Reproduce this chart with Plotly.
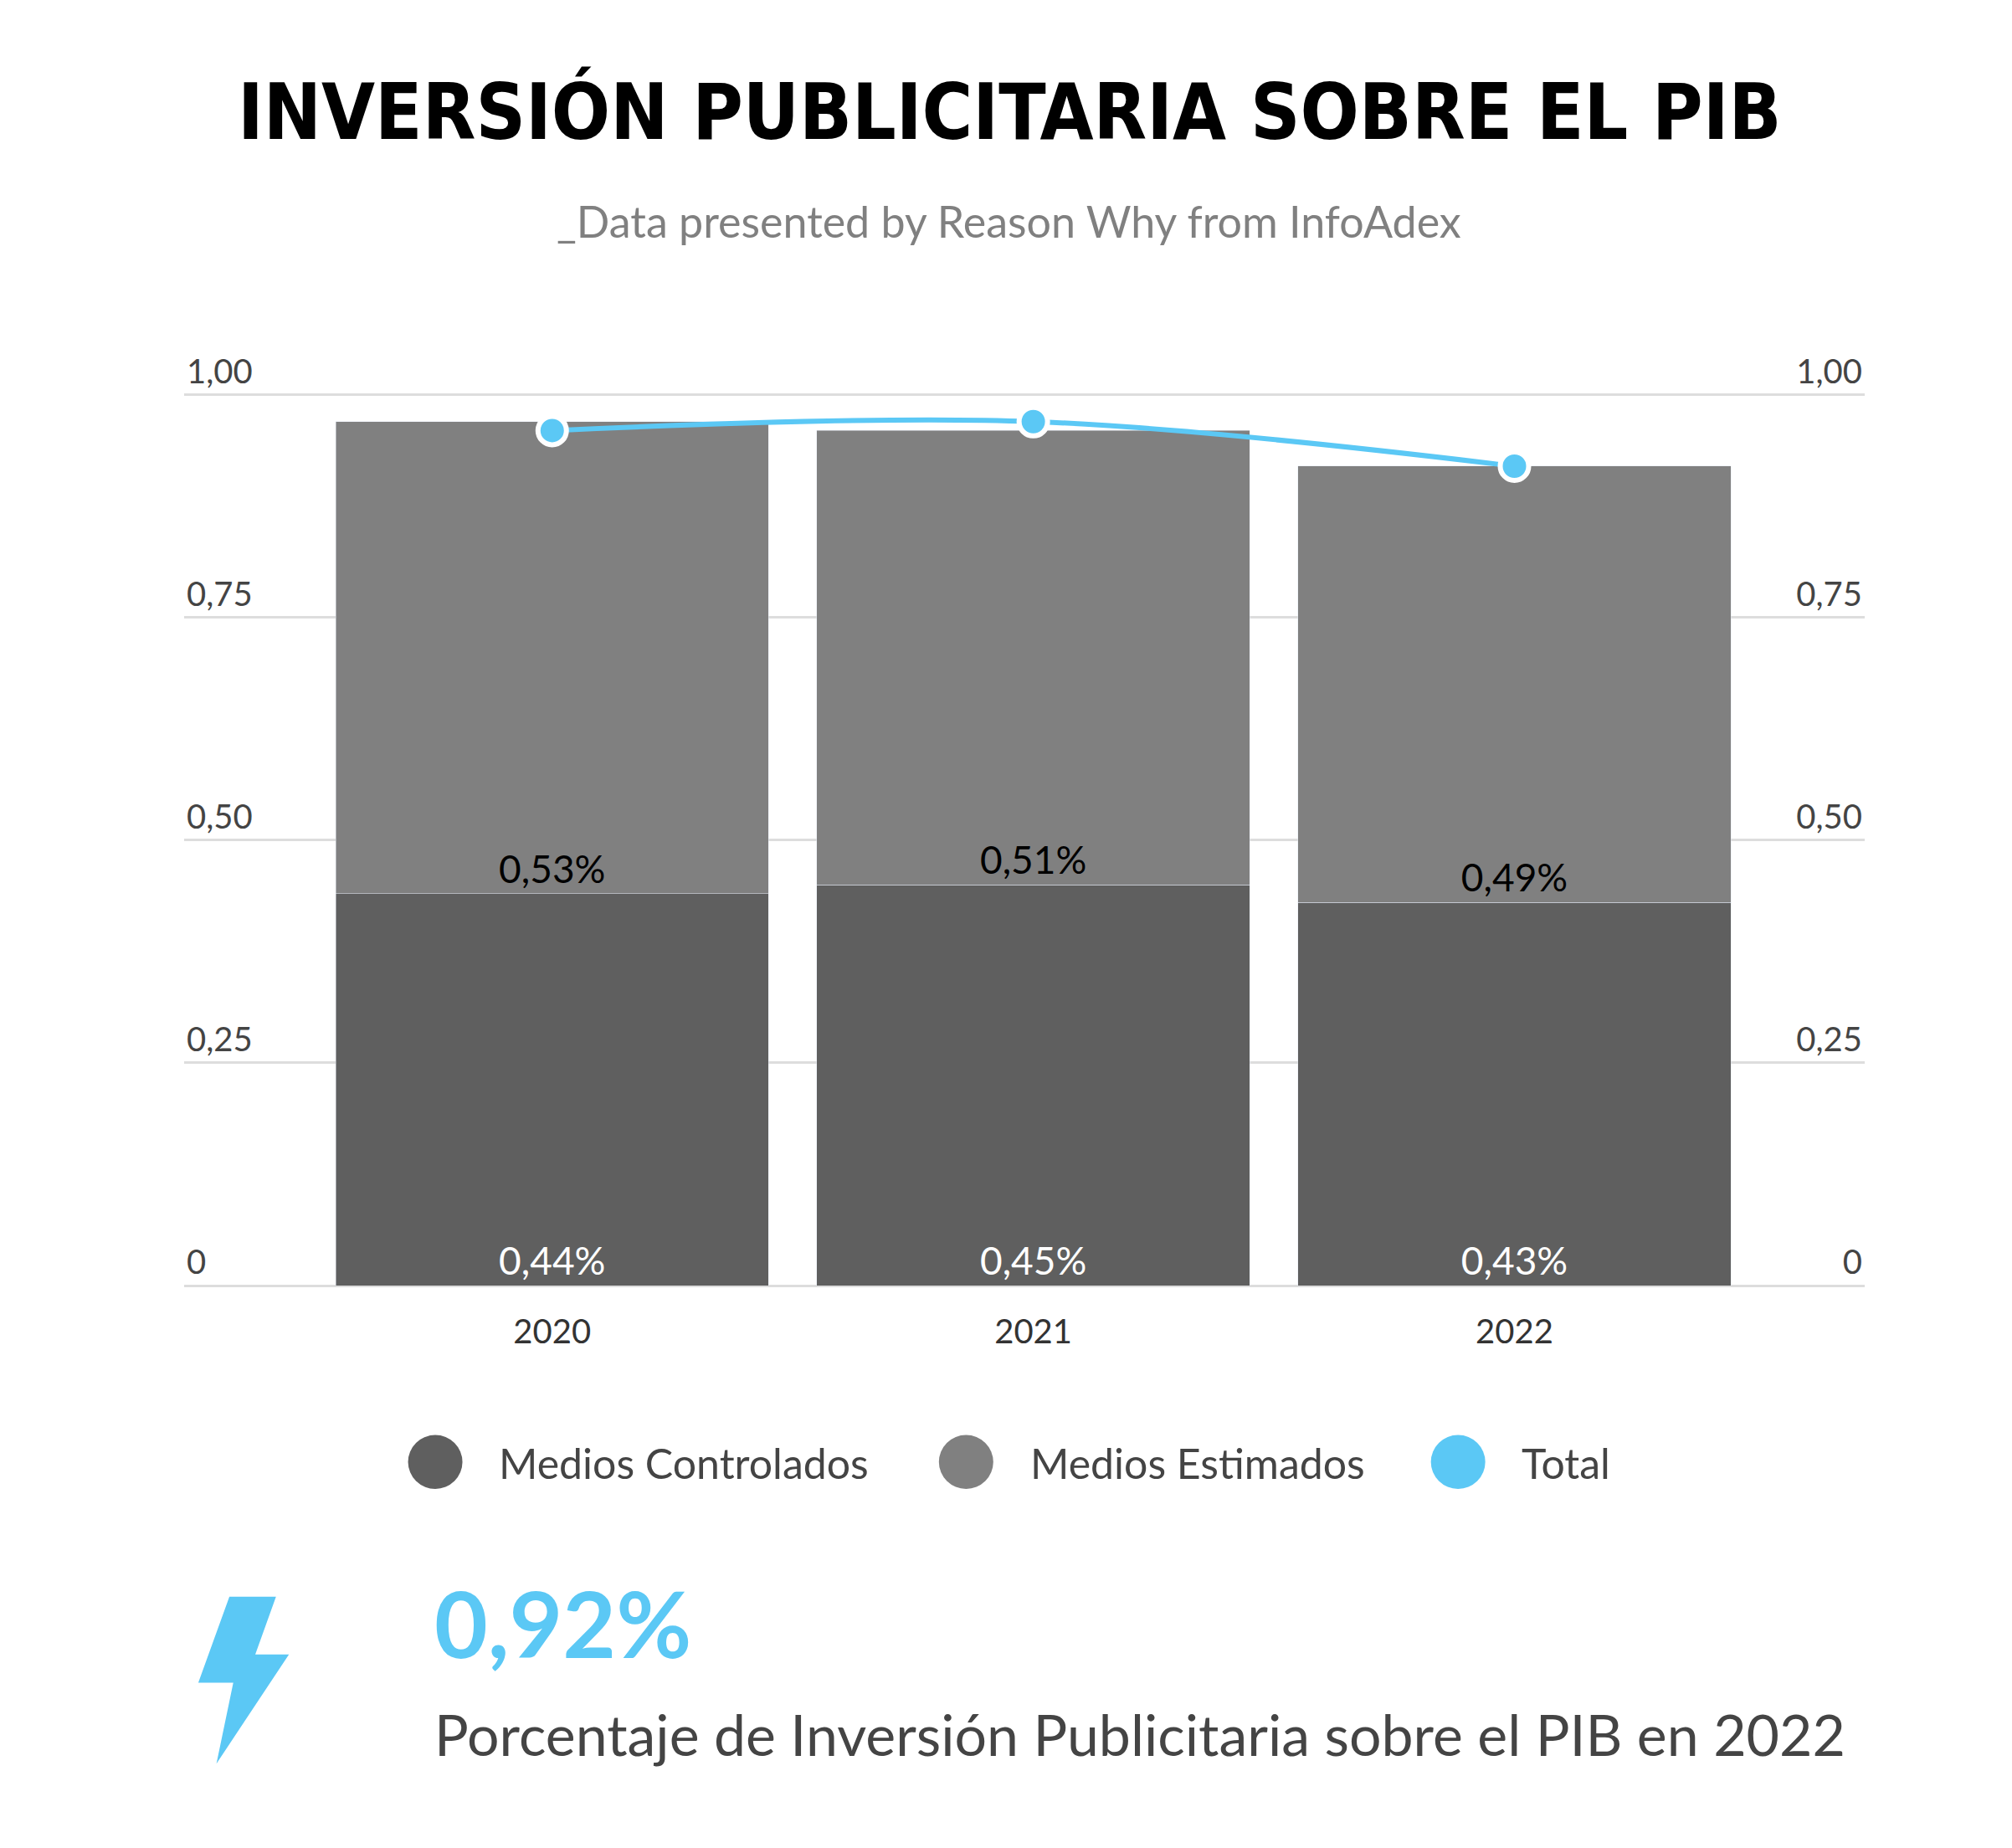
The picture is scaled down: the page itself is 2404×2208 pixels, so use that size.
import plotly.graph_objects as go

# data
years = ["2020", "2021", "2022"]
controlados = [0.44, 0.45, 0.43]
estimados = [0.53, 0.51, 0.49]
total = [0.96, 0.97, 0.92]
tick_vals = [0, 0.25, 0.5, 0.75, 1.0]
tick_text = ["0", "0,25", "0,50", "0,75", "1,00"]
legend_names = ["Medios Controlados", "Medios Estimados", "Total"]

W, H = 2404, 2208
L, R, T, B = 212, 184, 400, 680
SX, SY = 2404 / 1554, 2208 / 1440

def px(xd):
    return ((xd - 8) * SX - L) / (W - L - R)

def py(yd):
    return (H - B - (yd - 6) * SY) / (H - T - B)

DARK, MID, BLUE = "#5f5f5f", "#808080", "#5bc8f5"
FONT = "Lato, Noto Sans, sans-serif"

fig = go.Figure()
fig.add_bar(x=years, y=controlados, marker_color=DARK, width=0.9,
            text=[f"{v:.2f}%".replace(".", ",") for v in controlados],
            textposition="inside", insidetextanchor="start",
            textfont=dict(color="white", size=46, family=FONT), showlegend=False)
fig.add_bar(x=years, y=estimados, marker_color=MID, width=0.9,
            text=[f"{v:.2f}%".replace(".", ",") for v in estimados],
            textposition="inside", insidetextanchor="start",
            textfont=dict(color="black", size=46, family=FONT), showlegend=False)
fig.add_scatter(x=years, y=total, mode="lines+markers", line=dict(color=BLUE, width=6, shape="spline"),
                marker=dict(size=34, color=BLUE, line=dict(color="white", width=6)), showlegend=False)
fig.add_scatter(x=years, y=total, yaxis="y2", mode="none", showlegend=False, hoverinfo="skip")

axfont = dict(size=40, color="#444", family=FONT)
fig.update_layout(
    width=W, height=H, plot_bgcolor="white", paper_bgcolor="white",
    margin=dict(l=L, r=R, t=T, b=B), barmode="stack",
    xaxis=dict(range=[-0.765, 2.728], tickfont=dict(size=40, color="#333", family=FONT),
               ticks="", showgrid=False, showline=False, ticklabelstandoff=28),
    yaxis=dict(range=[0, 1.06], tickvals=tick_vals, ticktext=tick_text, ticklabelposition="inside top",
               tickfont=axfont, gridcolor="#dddddd", gridwidth=3, zeroline=True,
               zerolinecolor="#dddddd", zerolinewidth=3),
    yaxis2=dict(range=[0, 1.06], overlaying="y", side="right", tickvals=tick_vals, ticktext=tick_text,
                ticklabelposition="inside top", tickfont=axfont, showgrid=False, zeroline=False),
    showlegend=False,
)

ann = [
    dict(text="<b>INVERSIÓN PUBLICITARIA SOBRE EL PIB</b>", x=px(783), y=py(88),
         font=dict(size=92, color="black", family="DejaVu Sans Condensed, Liberation Sans Narrow")),
    dict(text="_Data presented by Reason Why from InfoAdex", x=px(782), y=py(173),
         font=dict(size=52, color="#808080", family=FONT)),
    dict(text="<b>0,92%</b>", x=px(337), y=py(1265), xanchor="left",
         font=dict(size=110, color=BLUE, family=FONT)),
    dict(text="Porcentaje de Inversión Publicitaria sobre el PIB en 2022", x=px(337), y=py(1352),
         xanchor="left", font=dict(size=68, color="#444", family=FONT)),
]
shapes = []
for name, col, xc in zip(legend_names, [DARK, MID, BLUE], [339, 749, 1129]):
    r = 21
    shapes.append(dict(type="circle", xref="paper", yref="paper", fillcolor=col, line_width=0,
                       x0=px(xc - r), x1=px(xc + r), y0=py(1140 + r), y1=py(1140 - r)))
    ann.append(dict(text=name, x=px(xc + 48), y=py(1141), xanchor="left",
                    font=dict(size=50, color="#444", family=FONT)))
for a in ann:
    a.update(xref="paper", yref="paper", showarrow=False, yanchor=a.get("yanchor", "middle"),
             xanchor=a.get("xanchor", "center"))
    fig.add_annotation(**a)

bolt = [(180, 1245), (216, 1245), (200, 1290), (226, 1290), (170, 1375), (183, 1312), (156, 1312)]
path = "M " + " L ".join(f"{px(x)},{py(y)}" for x, y in bolt) + " Z"
shapes.append(dict(type="path", xref="paper", yref="paper", path=path, fillcolor=BLUE, line_width=0))
fig.update_layout(shapes=shapes)

fig.write_html("out.html")
